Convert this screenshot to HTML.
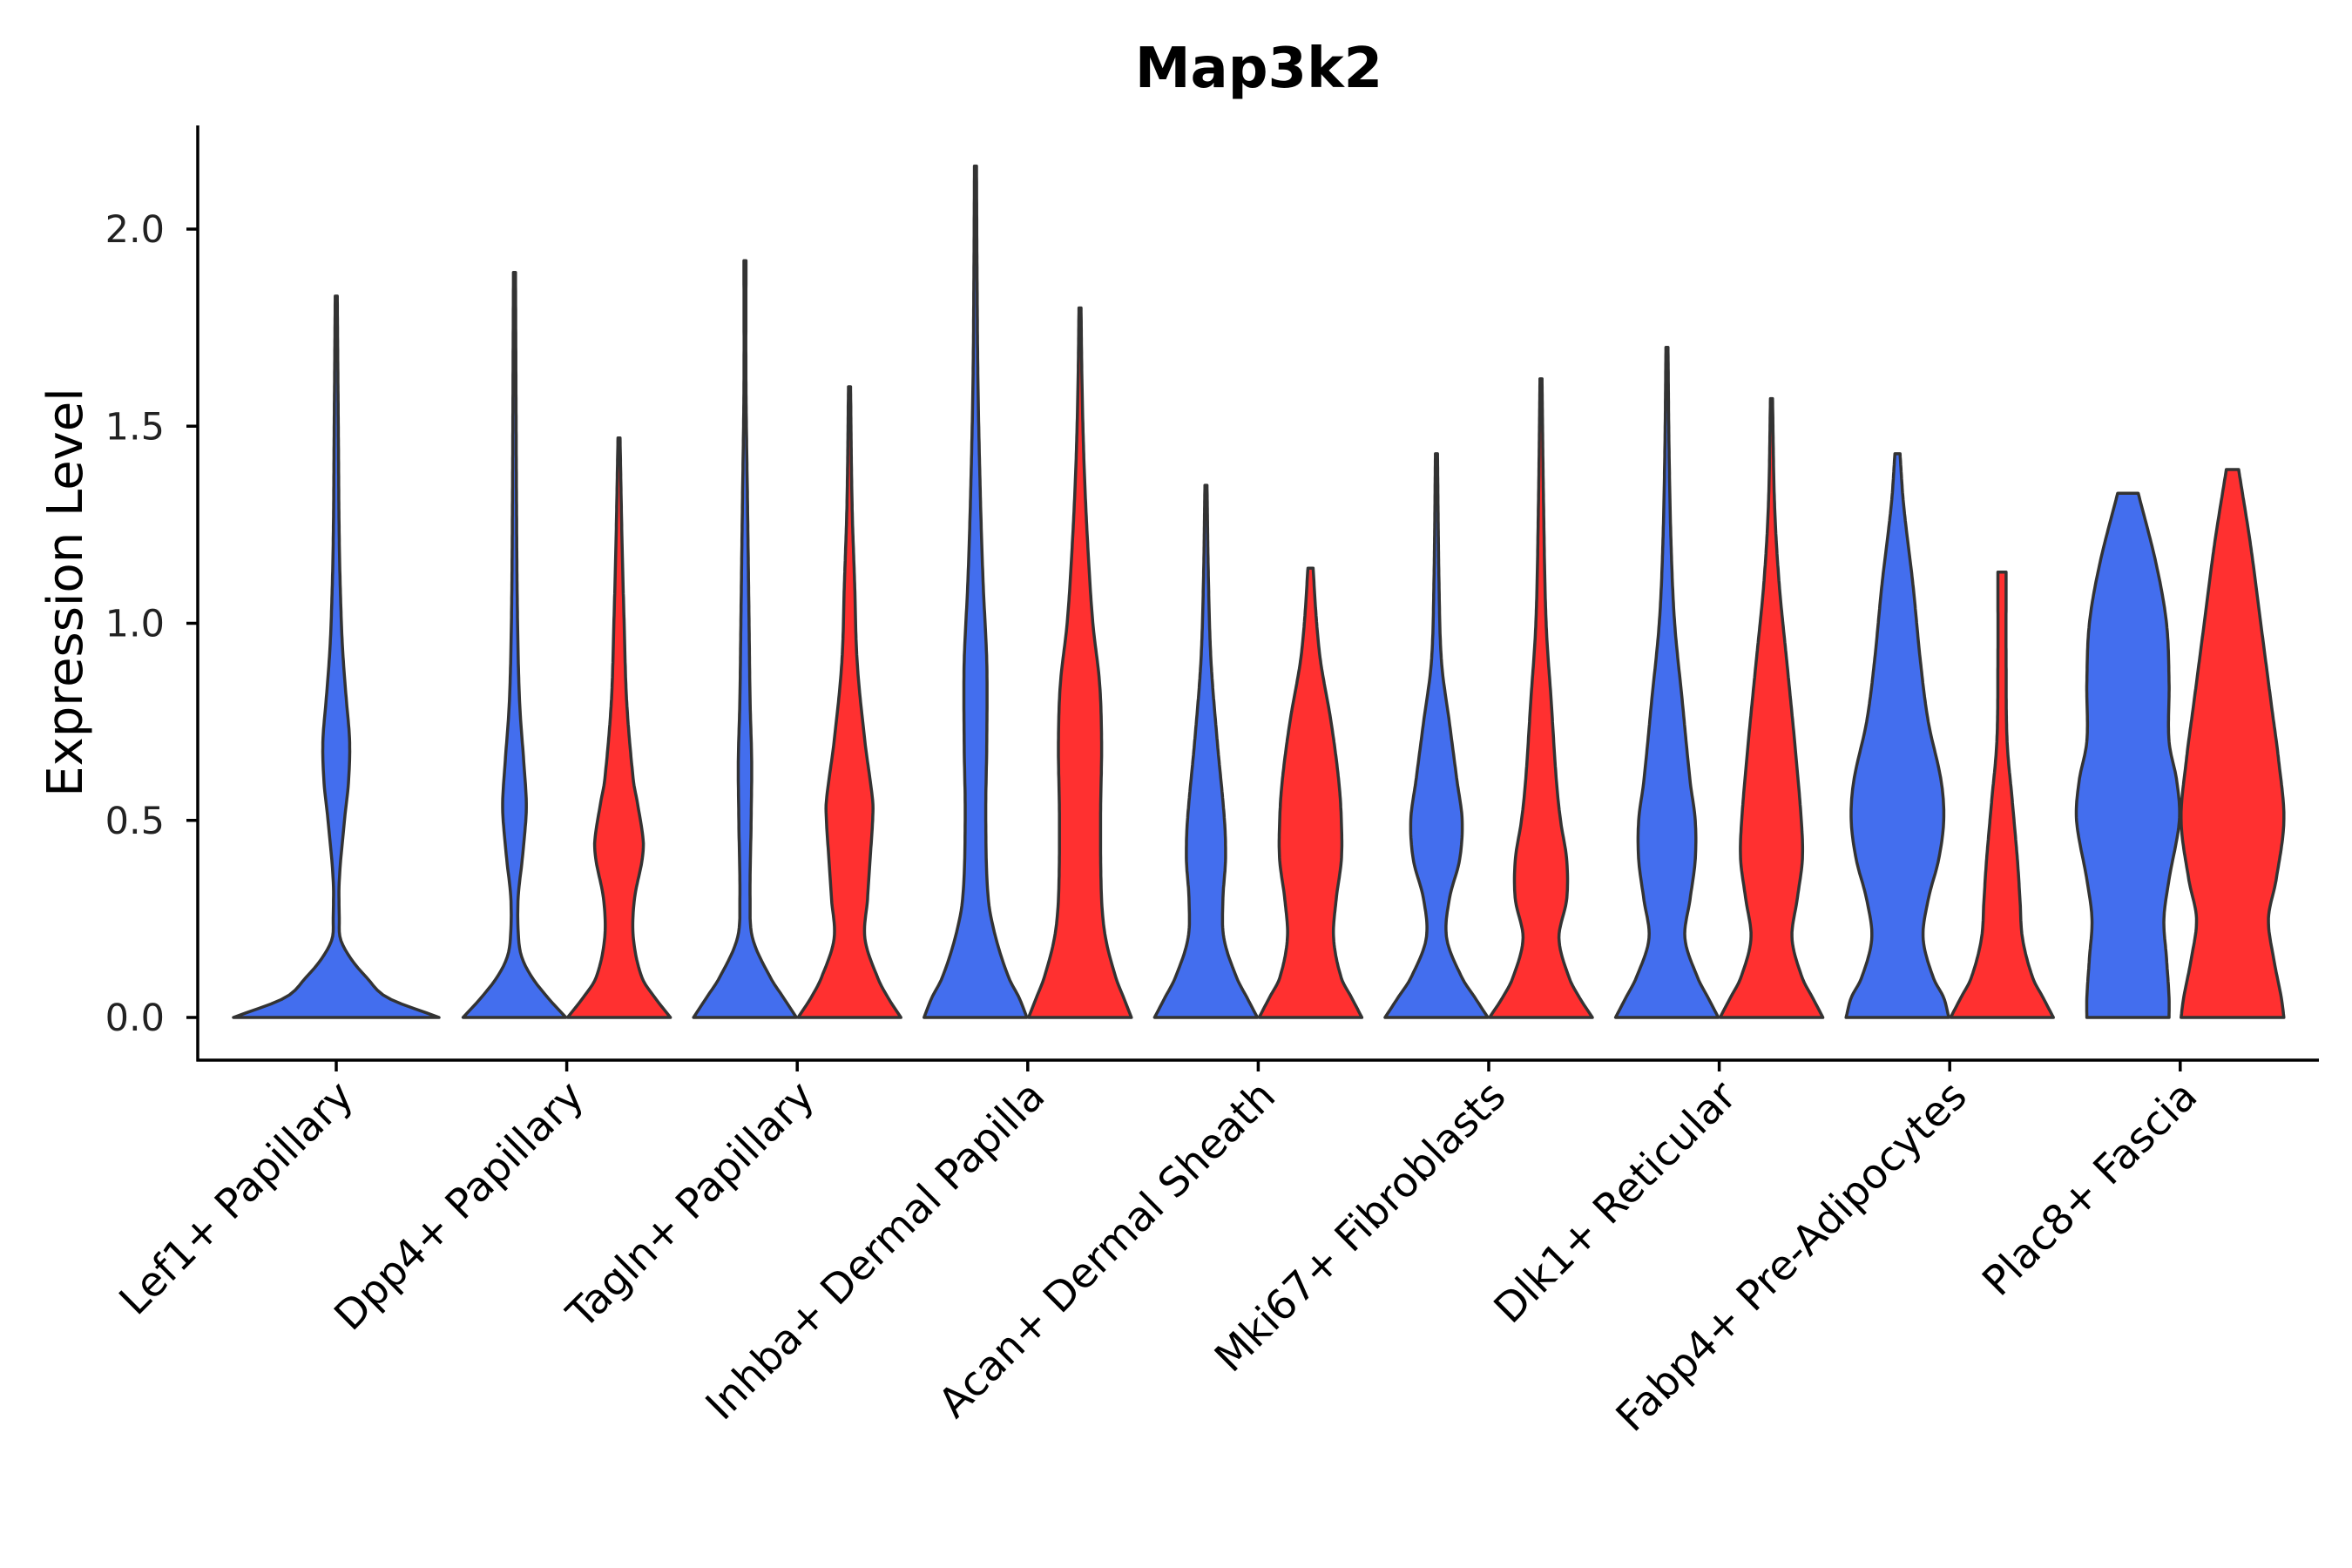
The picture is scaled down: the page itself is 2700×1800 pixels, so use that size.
<!DOCTYPE html>
<html><head><meta charset="utf-8"><style>
html,body{margin:0;padding:0;background:#fff;}
svg{display:block;font-family:"DejaVu Sans","Liberation Sans",sans-serif;}
</style></head><body>
<svg id="chart" width="2700" height="1800" viewBox="0 0 2700 1800" xmlns="http://www.w3.org/2000/svg">
<rect width="2700" height="1800" fill="#fff"/>
<text x="1445" y="100" text-anchor="middle" font-size="64" font-weight="bold">Map3k2</text>
<text transform="translate(94,680) rotate(-90)" text-anchor="middle" font-size="56">Expression Level</text>
<g id="plot"></g>
</svg>
<script>
const categories = ["Lef1+ Papillary","Dpp4+ Papillary","Tagln+ Papillary","Inhba+ Dermal Papilla","Acan+ Dermal Sheath","Mki67+ Fibroblasts","Dlk1+ Reticular","Fabp4+ Pre-Adipocytes","Plac8+ Fascia"];
const yTicks = [0, 0.5, 1.0, 1.5, 2.0];
const yTickLabels = ["0.0","0.5","1.0","1.5","2.0"];
// violin profiles: [expression, relative half-width]
const blueMax = [1.83,1.89,1.92,2.16,1.35,1.43,1.70,1.43,1.33];
const redMax  = [null,1.47,1.60,1.80,1.14,1.62,1.57,1.13,1.39];
const blueProfiles = [
 [[0,1],[0.05,0.5],[0.1,0.3],[0.15,0.14],[0.2,0.04],[0.25,0.03],[0.35,0.03],[0.5,0.08],[0.6,0.12],[0.7,0.13],[0.8,0.1],[0.9,0.07],[1.0,0.05],[1.2,0.03],[1.5,0.02],[1.83,0.01]],
 [[0,1],[0.05,0.65],[0.1,0.35],[0.15,0.15],[0.2,0.08],[0.3,0.07],[0.4,0.15],[0.5,0.22],[0.55,0.23],[0.65,0.18],[0.8,0.1],[1.0,0.06],[1.3,0.04],[1.89,0.02]],
 [[0,1],[0.05,0.75],[0.1,0.5],[0.2,0.15],[0.3,0.1],[0.5,0.12],[0.65,0.13],[0.8,0.1],[1.0,0.08],[1.3,0.05],[1.6,0.02],[1.92,0.02]],
 [[0,1],[0.05,0.85],[0.1,0.65],[0.2,0.4],[0.3,0.25],[0.5,0.2],[0.7,0.22],[0.9,0.22],[1.1,0.15],[1.3,0.1],[1.6,0.05],[1.9,0.03],[2.16,0.02]],
 [[0,1],[0.05,0.8],[0.1,0.6],[0.2,0.35],[0.3,0.33],[0.4,0.38],[0.5,0.36],[0.7,0.22],[0.9,0.1],[1.1,0.05],[1.35,0.02]],
 [[0,1],[0.05,0.75],[0.1,0.5],[0.2,0.2],[0.3,0.25],[0.4,0.45],[0.5,0.5],[0.6,0.4],[0.75,0.25],[0.9,0.1],[1.1,0.05],[1.43,0.02]],
 [[0,1],[0.05,0.8],[0.1,0.6],[0.2,0.35],[0.3,0.45],[0.4,0.55],[0.5,0.55],[0.6,0.45],[0.8,0.3],[1.0,0.15],[1.2,0.08],[1.45,0.04],[1.7,0.02]],
 [[0,1],[0.05,0.9],[0.1,0.7],[0.2,0.5],[0.3,0.6],[0.4,0.8],[0.5,0.9],[0.6,0.85],[0.75,0.6],[0.9,0.45],[1.1,0.3],[1.3,0.12],[1.43,0.05]],
 [[0,0.8],[0.05,0.8],[0.15,0.75],[0.25,0.7],[0.35,0.8],[0.5,1.0],[0.6,0.95],[0.7,0.8],[0.85,0.8],[1.0,0.75],[1.15,0.55],[1.33,0.2]]
];
const redProfiles = [
 null,
 [[0,1],[0.05,0.7],[0.1,0.45],[0.2,0.28],[0.3,0.3],[0.4,0.45],[0.45,0.47],[0.55,0.35],[0.6,0.28],[0.8,0.15],[1.0,0.1],[1.2,0.06],[1.47,0.02]],
 [[0,1],[0.05,0.75],[0.1,0.55],[0.2,0.3],[0.3,0.35],[0.4,0.4],[0.5,0.45],[0.55,0.45],[0.7,0.3],[0.9,0.15],[1.1,0.1],[1.3,0.05],[1.6,0.02]],
 [[0,1],[0.05,0.85],[0.1,0.7],[0.2,0.5],[0.3,0.42],[0.5,0.4],[0.7,0.42],[0.85,0.38],[1.0,0.25],[1.2,0.15],[1.4,0.08],[1.6,0.04],[1.8,0.02]],
 [[0,1],[0.05,0.8],[0.1,0.6],[0.2,0.45],[0.3,0.5],[0.4,0.6],[0.5,0.6],[0.6,0.55],[0.75,0.4],[0.9,0.2],[1.0,0.12],[1.14,0.05]],
 [[0,1],[0.05,0.75],[0.1,0.55],[0.2,0.35],[0.3,0.5],[0.4,0.5],[0.5,0.38],[0.6,0.3],[0.8,0.2],[1.0,0.1],[1.3,0.05],[1.62,0.02]],
 [[0,1],[0.05,0.8],[0.1,0.6],[0.2,0.4],[0.3,0.5],[0.4,0.6],[0.5,0.58],[0.7,0.45],[0.9,0.3],[1.1,0.15],[1.3,0.06],[1.57,0.02]],
 [[0,1],[0.05,0.8],[0.1,0.6],[0.2,0.4],[0.3,0.35],[0.4,0.3],[0.55,0.2],[0.7,0.1],[0.9,0.08],[1.13,0.08]],
 [[0,1],[0.05,0.95],[0.15,0.8],[0.25,0.7],[0.35,0.85],[0.5,1.0],[0.65,0.9],[0.8,0.75],[1.0,0.55],[1.2,0.35],[1.39,0.12]]
];

const NS="http://www.w3.org/2000/svg";
const g=document.getElementById('plot');
const axL=227, axR=2662, axTop=144, axBot=1217;
const y0px=1168, unitPx=452.5;
const yScale=v=>y0px-v*unitPx;
const x0=386, step=264.6;
const xScale=i=>x0+i*step;
const halfW=59, dodge=60;

function mk(tag,attrs,name,inter){const e=document.createElementNS(NS,tag);for(const k in attrs)e.setAttribute(k,attrs[k]);


g.appendChild(e);return e;}

function interp(prof,y){
  const n=prof.length;
  for(let k=0;k<n-1;k++){const a=prof[k],b=prof[k+1];
    if(y>=a[0]&&y<=b[0]){
      const h=b[0]-a[0];const t=(y-a[0])/h;
      const p0=prof[Math.max(k-1,0)],p3=prof[Math.min(k+2,n-1)];
      const m1=(k>0)?(b[1]-p0[1])/(b[0]-p0[0])*h:(b[1]-a[1]);
      const m2=(k+2<n)?(p3[1]-a[1])/(p3[0]-a[0])*h:(b[1]-a[1]);
      const t2=t*t,t3=t2*t;
      const v=(2*t3-3*t2+1)*a[1]+(t3-2*t2+t)*m1+(-2*t3+3*t2)*b[1]+(t3-t2)*m2;
      return Math.max(v,0.01);}}
  return prof[n-1][1];
}
function violin(cx,hw,prof,max,fill,name){
  const n=160;const right=[],left=[];
  for(let k=0;k<=n;k++){const v=max*k/n;const w=interp(prof,v)*hw;const y=yScale(v);
    right.push((cx+w).toFixed(1)+','+y.toFixed(1));left.unshift((cx-w).toFixed(1)+','+y.toFixed(1));}
  const d='M'+right.join(' L')+' L'+left.join(' L')+' Z';
  mk('path',{d:d,fill:fill,stroke:'#333',"stroke-width":3.5,"stroke-linejoin":"round"},name,false);
}
categories.forEach((c,i)=>{
  const cx=xScale(i);
  if(redProfiles[i]===null){
    violin(cx,halfW*2,blueProfiles[i],blueMax[i],'#436EEE','violin-blue-'+i);
  } else {
    violin(cx-dodge,halfW,blueProfiles[i],blueMax[i],'#436EEE','violin-blue-'+i);
    violin(cx+dodge,halfW,redProfiles[i],redMax[i],'#FF3030','violin-red-'+i);
  }
  mk('line',{x1:cx,x2:cx,y1:axBot,y2:axBot+13,stroke:'#000',"stroke-width":3.5},'x-tick-'+i,false);
  const t=mk('text',{transform:`translate(${cx+22},${axBot+44}) rotate(-45)`,"text-anchor":"end","font-size":47,fill:'#000'},'x-tick-label-'+i,false);
  t.textContent=c;
});
yTicks.forEach((v,i)=>{
  const y=yScale(v);
  mk('line',{x1:axL-13,x2:axL,y1:y,y2:y,stroke:'#000',"stroke-width":3.5},'y-tick-'+i,false);
  const t=mk('text',{x:axL-38,y:y+15,"text-anchor":"end","font-size":43,fill:'#222'},'y-tick-label-'+i,false);
  t.textContent=yTickLabels[i];
});
mk('line',{x1:axL,x2:axL,y1:axTop,y2:axBot+1.5,stroke:'#000',"stroke-width":3.5},'y-axis-line',false);
mk('line',{x1:axL-1.5,x2:axR,y1:axBot,y2:axBot,stroke:'#000',"stroke-width":3.5},'x-axis-line',false);
</script>
</body></html>
